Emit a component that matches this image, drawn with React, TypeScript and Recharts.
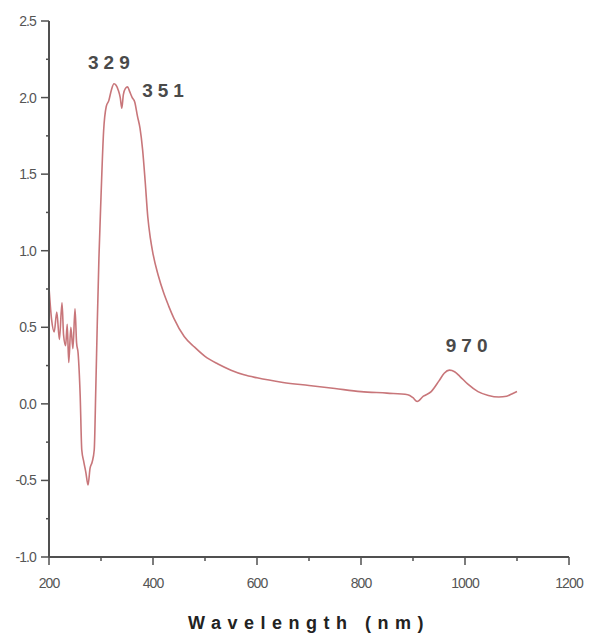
import { LineChart, Line, XAxis, YAxis, ReferenceDot } from "recharts";

// absorbance spectrum
const wavelength = [
  200, 205, 210, 215, 220, 225, 228, 232, 235, 238, 242, 246, 250, 253, 256,
  260, 263, 267, 271, 275, 279, 283, 287, 290, 293, 296, 300, 305, 310, 315,
  320, 325, 329, 333, 337, 340, 343, 347, 351, 355, 360, 365, 370, 375, 380,
  385, 390, 395, 400, 410, 420, 430, 440, 460, 480, 500, 525, 550, 575, 600,
  650, 700, 750, 800, 850, 890, 900, 908, 920, 935, 950, 960, 970, 980, 990,
  1005, 1025, 1045, 1065, 1080, 1090, 1100,
];
const absorbance = [
  0.76, 0.55, 0.47, 0.6, 0.42, 0.66, 0.45, 0.38, 0.52, 0.27, 0.5, 0.36, 0.62, 0.4, 0.33,
  0.05, -0.3, -0.38, -0.45, -0.53, -0.42, -0.38, -0.3, 0.1, 0.55, 0.95, 1.35, 1.78, 1.94, 1.98,
  2.05, 2.09, 2.08, 2.05, 2.0, 1.93, 2.02, 2.06, 2.07, 2.04, 2.0, 1.97, 1.88, 1.8, 1.66,
  1.45, 1.22, 1.08, 0.98, 0.84, 0.73, 0.64, 0.56, 0.44, 0.37, 0.31, 0.26, 0.22, 0.19, 0.17,
  0.14, 0.12, 0.1, 0.08, 0.07, 0.06, 0.04, 0.015, 0.05, 0.08, 0.15, 0.2, 0.22, 0.21, 0.18,
  0.13, 0.08, 0.055, 0.045, 0.05, 0.065, 0.08,
];

const xTicks = [200, 300, 400, 500, 600, 700, 800, 900, 1000, 1100, 1200];
const xMajor = [200, 400, 600, 800, 1000, 1200];
const yTicks = [-1, -0.75, -0.5, -0.25, 0, 0.25, 0.5, 0.75, 1, 1.25, 1.5, 1.75, 2, 2.25, 2.5];
const yMajor = [-1, -0.5, 0, 0.5, 1, 1.5, 2, 2.5];

const peaks = [
  { label: "329", x: 320, y: 2.23 },
  { label: "351", x: 424, y: 2.05 },
  { label: "970", x: 1008, y: 0.38 },
];

const data = wavelength.map((w, i) => ({ w, a: absorbance[i] }));

const axisColor = "#505050";
const font = "Arial, 'Liberation Sans', sans-serif";
const tickFont = { fontFamily: font, fontSize: 14, fill: "#555" };

const YTick = (props: any) => {
  const { x, y, payload } = props;
  const major = yMajor.includes(payload.value);
  return (
    <g>
      <line x1={x} x2={x - (major ? 8 : 3)} y1={y} y2={y} stroke={axisColor} strokeWidth={1.5} />
      {major && (
        <text x={x - 13} y={y} dy={5} textAnchor="end" letterSpacing={-0.9} {...tickFont}>
          {payload.value.toFixed(1)}
        </text>
      )}
    </g>
  );
};

const XTick = (props: any) => {
  const { x, y, payload } = props;
  const major = xMajor.includes(payload.value);
  return (
    <g>
      <line x1={x} x2={x} y1={y} y2={y + (major ? 8 : 4)} stroke={axisColor} strokeWidth={1.5} />
      {major && (
        <text x={x} y={y + 31} textAnchor="middle" letterSpacing={-0.9} {...tickFont}>
          {payload.value}
        </text>
      )}
    </g>
  );
};

export default function App() {
  return (
    <div style={{ position: "absolute", left: 0, top: 0, background: "#fff" }}>
      <LineChart width={590} height={639} data={data} margin={{ top: 21, right: 21, left: 0, bottom: 2 }}>
        <XAxis
          dataKey="w"
          type="number"
          domain={[200, 1200]}
          ticks={xTicks}
          interval={0}
          tickSize={0}
          tickMargin={0}
          tick={<XTick />}
          height={80}
          stroke={axisColor}
          strokeWidth={2}
          label={{
            value: "Wavelength (nm)",
            position: "insideBottom",
            offset: 8,
            style: { fontFamily: font, fontSize: 18, fontWeight: 700, fill: "#222", letterSpacing: 6.5 },
          }}
        />
        <YAxis
          type="number"
          domain={[-1, 2.5]}
          ticks={yTicks}
          interval={0}
          tickSize={0}
          tickMargin={0}
          tick={<YTick />}
          width={49}
          stroke={axisColor}
          strokeWidth={2}
        />
        <Line
          type="monotone"
          dataKey="a"
          stroke="#c8767a"
          strokeWidth={1.6}
          dot={false}
          isAnimationActive={false}
        />
        {peaks.map((p) => (
          <ReferenceDot
            key={p.label}
            x={p.x}
            y={p.y}
            r={0}
            fill="none"
            stroke="none"
            ifOverflow="visible"
            label={{
              value: p.label,
              position: "center",
              style: { fontFamily: font, fontSize: 19, fontWeight: 700, fill: "#4a4a4a", letterSpacing: 5 },
            }}
          />
        ))}
      </LineChart>
    </div>
  );
}
